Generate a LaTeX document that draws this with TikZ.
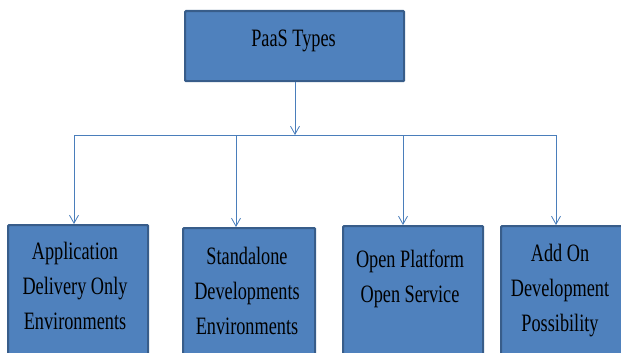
\documentclass[tikz,border=0pt]{standalone}
\usepackage{fontspec}
\usepackage{graphicx}
\setmainfont{Liberation Serif}
\usetikzlibrary{arrows.meta}
\definecolor{boxfill}{HTML}{4F81BD}
\definecolor{boxedge}{HTML}{385D8A}
\definecolor{linkcol}{HTML}{4A7EBB}
\newcommand\narrowtxt[1]{\scalebox{0.73}[1]{#1}}
\tikzset{
  paasbox/.style={draw=boxedge, line width=2.2pt, fill=boxfill, rounded corners=1pt},
  lbl/.style={font=\fontsize{25}{35}\selectfont, align=center, inner sep=0pt, text=black},
  link/.style={draw=linkcol, line width=0.8pt},
  arr/.style={link, -{Straight Barb[length=8pt,width=9pt,line width=0.8pt]}}
}
\begin{document}
\begin{tikzpicture}[x=1pt,y=-1pt]
\useasboundingbox (0,0) rectangle (621,353);
\clip (0,0) rectangle (621,353);
% top box
\node[paasbox, minimum width=219pt, minimum height=70pt, anchor=north west] (top) at (184,10) {};
\node[lbl, anchor=base] (toplbl) at (293.5,47) {\narrowtxt{PaaS Types}};
% child boxes
\node[paasbox, minimum width=140pt, minimum height=150pt, anchor=north west] (b1) at (7,224) {};
\node[paasbox, minimum width=132pt, minimum height=150pt, anchor=north west] (b2) at (182,227) {};
\node[paasbox, minimum width=140pt, minimum height=150pt, anchor=north west] (b3) at (342,225) {};
\node[paasbox, minimum width=130pt, minimum height=150pt, anchor=north west] (b4) at (500,225) {};
\node[lbl, anchor=north] (l1) at (75,242) {\narrowtxt{Application}\\\narrowtxt{Delivery Only}\\\narrowtxt{Environments}};
\node[lbl, anchor=north] (l2) at (247,247) {\narrowtxt{Standalone}\\\narrowtxt{Developments}\\\narrowtxt{Environments}};
\node[lbl, anchor=north] (l3) at (410,250) {\narrowtxt{Open Platform}\\\narrowtxt{Open Service}};
\node[lbl, anchor=north] (l4) at (560,244) {\narrowtxt{Add On}\\\narrowtxt{Development}\\\narrowtxt{Possibility}};
% connectors
\coordinate (hub) at (295,135);
\coordinate (j1) at (74,135);
\coordinate (j2) at (236,135);
\coordinate (j3) at (403,135);
\coordinate (j4) at (556,135);
\draw[arr] (top.south -| hub) -- (hub);
\draw[link] (j1) -- (j4);
\draw[arr] (j1) -- (j1 |- b1.north);
\draw[arr] (j2) -- (j2 |- b2.north);
\draw[arr] (j3) -- (j3 |- b3.north);
\draw[arr] (j4) -- (j4 |- b4.north);
\end{tikzpicture}
\end{document}
